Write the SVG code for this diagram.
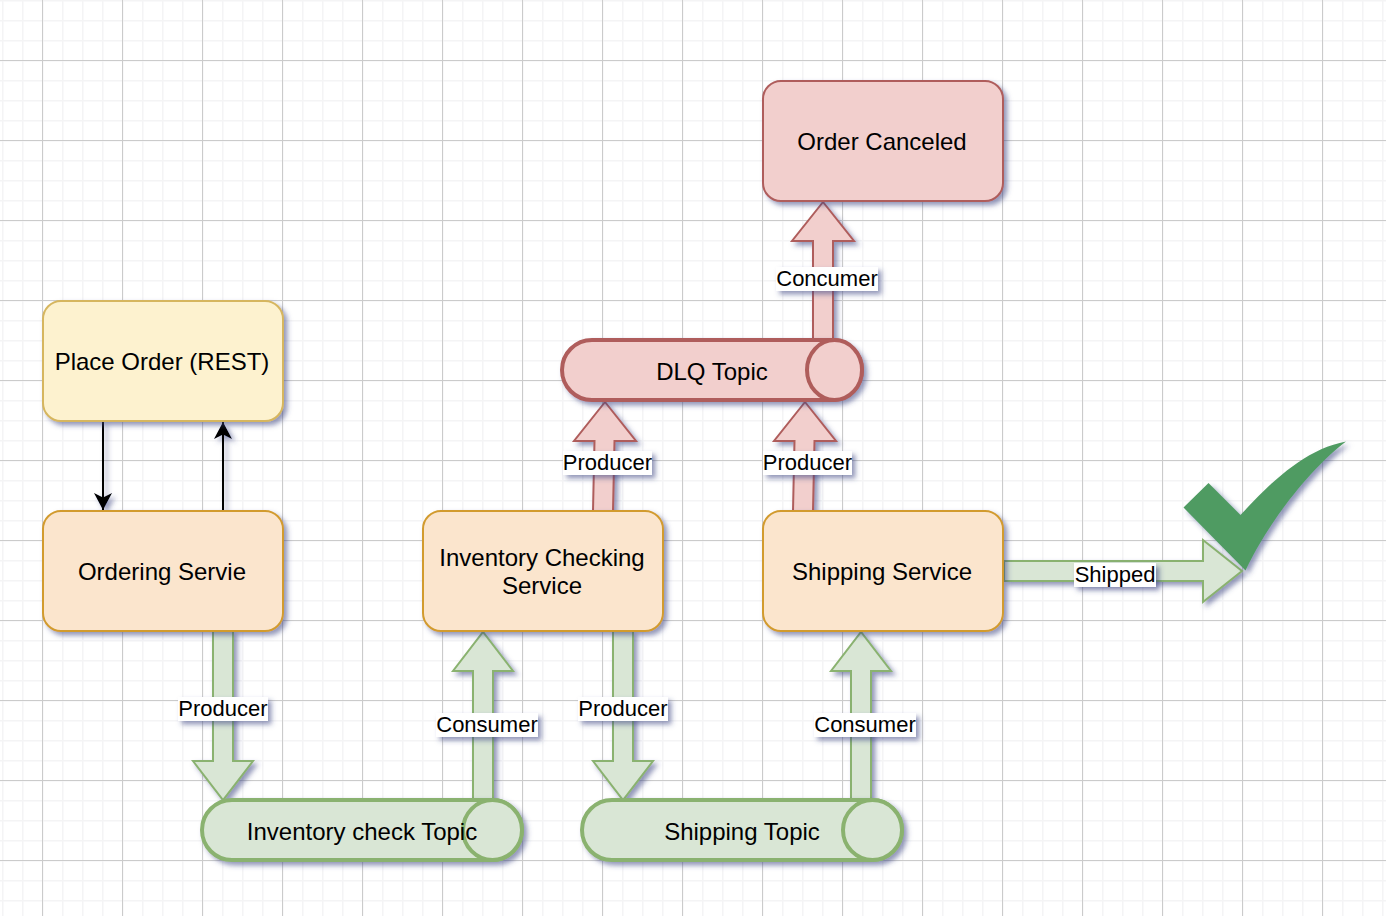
<svg xmlns="http://www.w3.org/2000/svg" width="1386" height="916" viewBox="0 0 1386 916">
<style>
text{font-family:"Liberation Sans",Arial,sans-serif;fill:#000;text-anchor:middle}
.n{font-size:24px}
.l{font-size:22px}
.s{filter:url(#sh)}
.y{fill:#fdf2cf;stroke:#d6b65e;stroke-width:2}
.o{fill:#fbe5cd;stroke:#d29b2f;stroke-width:2}
.r{fill:#f2cfcd;stroke:#af5d5b;stroke-width:2}
.g{fill:#d9e6d5;stroke:#8ab26f;stroke-width:2}
.rt{fill:#f2cfcd;stroke:#af5d5b;stroke-width:4}
.gt{fill:#d9e6d5;stroke:#8ab26f;stroke-width:4}
.lb{fill:#fff}
.b{fill:none;stroke:#000;stroke-width:2;marker-end:url(#ah)}
</style>
<defs>
<filter id="sh" filterUnits="userSpaceOnUse" x="0" y="0" width="1386" height="916">
<feDropShadow dx="3.500" dy="3.500" stdDeviation="2.800" flood-color="#3a4382" flood-opacity="0.55"/>
</filter>
<pattern id="minor" patternUnits="userSpaceOnUse" x="2" y="0" width="20" height="20">
<rect width="1.5" height="20" fill="#f4f4f5"/><rect width="20" height="1.5" fill="#f4f4f5"/>
</pattern>
<pattern id="major" patternUnits="userSpaceOnUse" x="42" y="60" width="80" height="80">
<rect width="1" height="80" fill="#cbcbcb"/><rect width="80" height="1" fill="#cbcbcb"/>
</pattern>
<marker id="ah" markerUnits="userSpaceOnUse" markerWidth="20" markerHeight="20" refX="17" refY="10" orient="auto" overflow="visible">
<path d="M17,10 L0,1 L4.5,10 L0,19 Z" fill="#000"/>
</marker>
</defs>
<g id="grid">
<rect width="1386" height="916" fill="#fff"/>
<rect width="1386" height="916" fill="url(#minor)"/>
<rect width="1386" height="916" fill="url(#major)"/>
</g>
<g id="connectors">
<path class="b s" d="M103,421V510"/>
<path class="b s" d="M223,511V422"/>
<path class="g s" d="M213,631H233V761H253L223,800L193,761H213Z"/>
<path class="g s" d="M473,800V671H453L483,632L513,671H493V800Z"/>
<path class="g s" d="M613,631H633V761H653L623,800L593,761H613Z"/>
<path class="g s" d="M851,800V671H831L861,632L891,671H871V800Z"/>
<path class="g s" d="M1004,561H1203V540L1242,571L1203,602V581H1004Z"/>
<path class="r s" d="M593,511L594.500,441H574L605,402L636,441H614.500L613,511Z"/>
<path class="r s" d="M793,511L794.500,441H774L805,402L836,441H814.500L813,511Z"/>
<path class="r s" d="M813,340V241H792L823,202L854,241H833V340Z"/>
<g id="edge-labels">
<rect class="lb s" x="178" y="697" width="90" height="24"/><text class="l" x="223" y="716">Producer</text>
<rect class="lb s" x="436" y="713" width="102" height="24"/><text class="l" x="487" y="732">Consumer</text>
<rect class="lb s" x="578" y="697" width="90" height="24"/><text class="l" x="623" y="716">Producer</text>
<rect class="lb s" x="814" y="713" width="102" height="24"/><text class="l" x="865" y="732">Consumer</text>
<rect class="lb s" x="1074" y="563" width="82" height="24"/><text class="l" x="1115" y="582">Shipped</text>
<rect class="lb s" x="563" y="451" width="89" height="24"/><text class="l" x="607.500" y="470">Producer</text>
<rect class="lb s" x="763" y="451" width="89" height="24"/><text class="l" x="807.500" y="470">Producer</text>
<rect class="lb s" x="776" y="267" width="102" height="24"/><text class="l" x="827" y="286">Concumer</text>
</g>
</g>
<g id="place-order">
<rect class="y s" x="43" y="301" width="240" height="120" rx="18"/>
<text class="n" x="162" y="370">Place Order (REST)</text>
</g>
<g id="ordering-service">
<rect class="o s" x="43" y="511" width="240" height="120" rx="18"/>
<text class="n" x="162" y="580">Ordering Servie</text>
</g>
<g id="inventory-service">
<rect class="o s" x="423" y="511" width="240" height="120" rx="18"/>
<text class="n" x="542" y="566">Inventory Checking</text>
<text class="n" x="542" y="594">Service</text>
</g>
<g id="shipping-service">
<rect class="o s" x="763" y="511" width="240" height="120" rx="18"/>
<text class="n" x="882" y="580">Shipping Service</text>
</g>
<g id="order-canceled">
<rect class="r s" x="763" y="81" width="240" height="120" rx="18"/>
<text class="n" x="882" y="150">Order Canceled</text>
</g>
<g id="dlq-topic">
<rect class="rt s" x="562" y="340" width="300" height="60" rx="30"/>
<ellipse class="rt" cx="834.500" cy="370" rx="27.500" ry="30"/>
<text class="n" x="712" y="380">DLQ Topic</text>
</g>
<g id="inventory-topic">
<rect class="gt s" x="202" y="800" width="320" height="60" rx="30"/>
<ellipse class="gt" cx="492.500" cy="830" rx="29.500" ry="30"/>
<text class="n" x="362" y="840">Inventory check Topic</text>
</g>
<g id="shipping-topic">
<rect class="gt s" x="582" y="800" width="320" height="60" rx="30"/>
<ellipse class="gt" cx="872.500" cy="830" rx="29.500" ry="30"/>
<text class="n" x="742" y="840">Shipping Topic</text>
</g>
<g id="check">
<path class="s" fill="#4f9b62" d="M1183.500,507.500L1208.500,483L1240.500,515C1270,483 1305,449 1346,441.500C1311,468 1268,522 1245.500,570.500Z"/>
</g>
</svg>
